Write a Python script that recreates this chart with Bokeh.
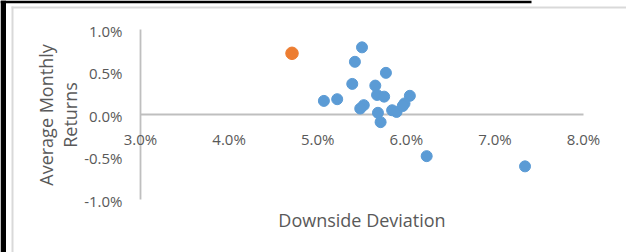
import math
from bokeh.plotting import figure
from bokeh.models import ColumnDataSource, Range1d, Label, BoxAnnotation
from bokeh.core.properties import value
from bokeh.embed import file_html
from bokeh.resources import INLINE

# ---- data (percent units) ----
dd_blue = [5.50, 5.42, 5.77, 5.39, 5.65, 5.67, 5.75, 6.04, 5.07, 5.22,
           5.52, 5.48, 5.68, 5.71, 5.84, 5.89, 5.98, 5.96, 6.23, 7.34]
ret_blue = [0.79, 0.62, 0.49, 0.36, 0.34, 0.23, 0.21, 0.22, 0.16, 0.18,
            0.11, 0.07, 0.02, -0.09, 0.05, 0.03, 0.13, 0.10, -0.49, -0.61]
dd_orange = [4.71]
ret_orange = [0.72]

x_ticks = [3.0, 4.0, 5.0, 6.0, 7.0, 8.0]
x_tick_labels = ["3.0%", "4.0%", "5.0%", "6.0%", "7.0%", "8.0%"]
y_ticks = [-1.0, -0.5, 0.0, 0.5, 1.0]
y_tick_labels = ["-1.0%", "-0.5%", "0.0%", "0.5%", "1.0%"]
x_title = "Downside Deviation"
y_title_lines = ["Average Monthly", "Returns"]

# ---- layout (pixels) ----
W, H = 626, 252
PX_LEFT, PX_RIGHT = 140.0, 583.0   # pixel of x=3.0 and x=8.0
PX_TOP, PX_BOTTOM = 29.0, 199.0    # pixel of y=1.0 and y=-1.0
FONT = "Open Sans"
TXT = "#595959"
AX = "#BFBFBF"

xs = (x_ticks[-1] - x_ticks[0]) / (PX_RIGHT - PX_LEFT)
ys = (y_ticks[-1] - y_ticks[0]) / (PX_BOTTOM - PX_TOP)
x_range = Range1d(x_ticks[0] - PX_LEFT * xs, x_ticks[-1] + (W - PX_RIGHT) * xs)
y_range = Range1d(y_ticks[0] - (H - PX_BOTTOM) * ys, y_ticks[-1] + PX_TOP * ys)

p = figure(width=W, height=H, output_backend="svg", toolbar_location=None,
           x_range=x_range, y_range=y_range,
           min_border_left=0, min_border_right=0, min_border_top=0, min_border_bottom=0)
p.axis.visible = False
p.grid.visible = False
p.outline_line_color = None
p.background_fill_color = "white"
p.border_fill_color = "white"

# chart-area border as seen in the screenshot
def box(l, r, t, b, color):
    p.add_layout(BoxAnnotation(left=l, right=r, top=H - t, bottom=H - b,
                               left_units="screen", right_units="screen",
                               top_units="screen", bottom_units="screen",
                               fill_color=color, fill_alpha=1.0, line_color=None,
                               level="underlay"))

box(11, 13, 6, H, "#D9D9D9")
box(11, W, 6, 8, "#D9D9D9")
box(0, 5.5, 0, H, "black")
box(0, 531, 0, 2.7, "black")

# axis lines
p.segment(x0=[x_ticks[0]], y0=[0.0], x1=[x_ticks[-1]], y1=[0.0], line_color=AX, line_width=1.8)
p.segment(x0=[x_ticks[0]], y0=[y_ticks[0]], x1=[x_ticks[0]], y1=[y_ticks[-1]], line_color=AX, line_width=1.8)

# tick labels
p.text(x=x_ticks, y=[0.0] * len(x_ticks), text=x_tick_labels, text_font=value(FONT),
       text_font_size=value("15px"), text_color=TXT, text_align="center",
       text_baseline="middle", y_offset=24)
p.text(x=[x_ticks[0]] * len(y_ticks), y=y_ticks, text=y_tick_labels, text_font=value(FONT),
       text_font_size=value("15px"), text_color=TXT, text_align="right",
       text_baseline="middle", x_offset=-18, y_offset=1)

# axis titles
p.add_layout(Label(x=(PX_LEFT + PX_RIGHT) / 2, y=H - 219, x_units="screen", y_units="screen",
                   text=x_title, text_font=FONT, text_font_size="18px", text_color=TXT,
                   text_align="center", text_baseline="middle"))
for txt, bx in zip(y_title_lines, [45, 69]):
    p.add_layout(Label(x=bx, y=H - 114.5, x_units="screen", y_units="screen",
                       text=txt, angle=math.pi / 2, text_font=FONT, text_font_size="18px",
                       text_color=TXT, text_align="center", text_baseline="alphabetic"))

# points
src_b = ColumnDataSource(dict(x=dd_blue, y=ret_blue))
src_o = ColumnDataSource(dict(x=dd_orange, y=ret_orange))
p.scatter("x", "y", source=src_b, size=11, fill_color="#5B9BD5", line_color="#5B9BD5")
p.scatter("x", "y", source=src_o, size=12.5, fill_color="#ED7D31", line_color="#ED7D31")

open("out.html", "w").write(file_html(p, INLINE))
